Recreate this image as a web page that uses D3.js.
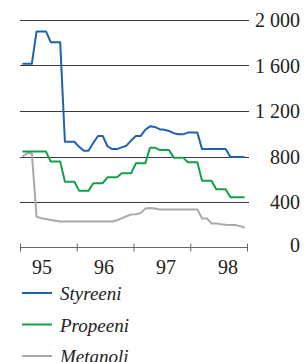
<!DOCTYPE html>
<html lang="fi">
<head>
<meta charset="UTF-8">
<title>Hinnat</title>
<script src="https://cdn.jsdelivr.net/npm/d3@7"></script>
<style>
  body { margin: 0; background: #fff; }
</style>
</head>
<body>
<svg id="chart" width="306" height="362"></svg>
<script>
// monthly values 1995-1998 (48 months)
var styreeni = [1615,1615,1615,1900,1900,1900,1805,1805,1805,930,930,930,
  885,850,850,920,980,980,890,865,865,880,895,940,
  980,980,1035,1065,1060,1040,1035,1025,1005,995,995,1010,
  1010,1010,865,865,865,865,865,865,795,795,795,795];
var propeeni = [843,843,843,843,843,843,755,755,755,578,578,578,
  500,500,500,565,565,565,617,617,617,653,653,653,
  740,740,740,878,878,858,858,858,790,790,790,750,
  750,750,587,587,587,512,512,512,441,441,441,441];
var metanoli = [800,828,828,270,258,250,242,236,228,228,228,228,
  228,228,228,228,228,228,228,228,240,256,275,290,
  292,302,342,348,342,335,335,335,335,335,335,335,
  335,335,256,256,212,212,205,200,197,197,188,176];
var years = ["95", "96", "97", "98"];
var yTicks = [0, 400, 800, 1200, 1600, 2000];
var seriesNames = ["Styreeni", "Propeeni", "Metanoli"];
var colors = ["#1f62ad", "#14a04b", "#a9a9ab"];

var serif = "Liberation Serif";
var svg = d3.select("#chart");

var x = d3.scaleLinear().domain([0, 48]).range([20, 247]);
var y = d3.scaleLinear().domain([0, 2000]).range([247.5, 20]);
var labelX = d3.scaleLinear().domain([0, 3]).range([42, 228]);

// grid lines
svg.append("g").selectAll("line")
  .data(yTicks.filter(d => d > 0))
  .enter().append("line")
  .attr("x1", 20).attr("x2", 249)
  .attr("y1", d => Math.round(y(d)) + 0.5)
  .attr("y2", d => Math.round(y(d)) + 0.5)
  .attr("stroke", "#3a3a3a").attr("stroke-width", 1);

// value labels on the right, space as thousands separator
svg.append("g").selectAll("text")
  .data(yTicks)
  .enter().append("text")
  .attr("x", 300)
  .attr("y", d => d === 0 ? y(d) - 3 : y(d))
  .attr("dy", "0.35em")
  .attr("text-anchor", "end")
  .attr("font-family", serif)
  .attr("font-size", 20)
  .attr("fill", "#222")
  .text(d => d3.format(",")(d).replace(",", " "));

// x axis
var xAxis = d3.axisBottom(x).tickValues([0, 12, 24, 36, 48])
  .tickSize(4).tickFormat("");
var ax = svg.append("g").attr("transform", "translate(0,247.5)").call(xAxis);
ax.select(".domain").attr("stroke", "#666").attr("d", "M20,0H247");
ax.selectAll(".tick line").attr("stroke", "#666").attr("y1", -4).attr("y2", 4);

svg.append("g").selectAll("text")
  .data(years)
  .enter().append("text")
  .attr("x", (d, i) => labelX(i))
  .attr("y", 274)
  .attr("text-anchor", "middle")
  .attr("font-family", serif)
  .attr("font-size", 20)
  .attr("fill", "#222")
  .text(d => d);

// series
var line = d3.line()
  .x((d, i) => x(i + 0.5))
  .y(d => y(d));

[metanoli, propeeni, styreeni].forEach(function (s, k) {
  svg.append("path")
    .attr("d", line(s))
    .attr("fill", "none")
    .attr("stroke", colors[2 - k])
    .attr("stroke-width", 2)
    .attr("stroke-linejoin", "round");
});

// legend
var legend = svg.append("g").selectAll("g")
  .data(seriesNames)
  .enter().append("g")
  .attr("transform", (d, i) => "translate(0," + (293 + i * 31.5) + ")");
legend.append("line")
  .attr("x1", 22).attr("x2", 52)
  .attr("stroke", (d, i) => colors[i]).attr("stroke-width", 2);
legend.append("text")
  .attr("x", 60).attr("y", 7)
  .attr("font-family", serif)
  .attr("font-size", 19)
  .attr("font-style", "italic")
  .attr("fill", "#222")
  .text(d => d);
</script>
</body>
</html>
